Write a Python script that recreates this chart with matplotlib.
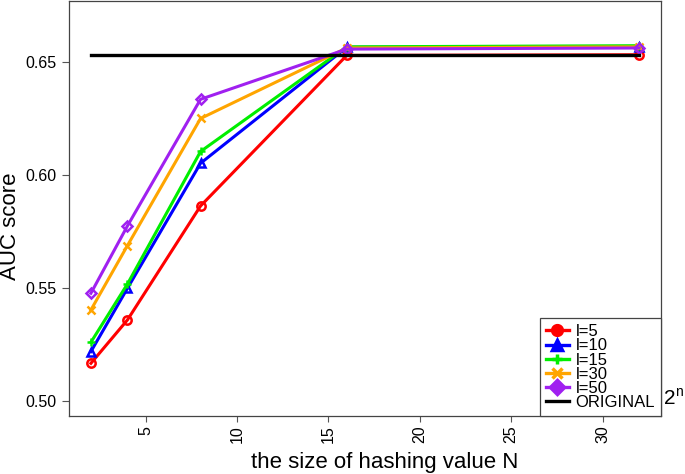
import matplotlib
matplotlib.use('Agg')
import matplotlib.pyplot as plt
from matplotlib.lines import Line2D

plt.rcParams['font.family'] = ['Liberation Sans', 'DejaVu Sans']

# hashing size N = 2^n
n_values = [2, 4, 8, 16, 32]
auc_l5 = [0.5165, 0.5357, 0.5861, 0.6527, 0.6530]
auc_l10 = [0.5217, 0.5497, 0.6050, 0.6563, 0.6565]
auc_l15 = [0.5258, 0.5516, 0.6102, 0.6565, 0.6570]
auc_l30 = [0.5401, 0.5686, 0.6248, 0.6560, 0.6565]
auc_l50 = [0.5475, 0.5773, 0.6333, 0.6555, 0.6560]
auc_original = 0.6530

labels = ['l=5', 'l=10', 'l=15', 'l=30', 'l=50', 'ORIGINAL']
series = [auc_l5, auc_l10, auc_l15, auc_l30, auc_l50]
colors = ['#ff0000', '#0000ff', '#00ee00', '#ffa500', '#a020f0']
markers = ['o', '^', '+', 'x', 'D']

fig = plt.figure(figsize=(6.85, 4.74), dpi=100)
ax = fig.add_axes([0.1007, 0.1224, 0.8643, 0.8756])

ax.plot([n_values[0], n_values[-1]], [auc_original, auc_original], color='black', lw=2.4, zorder=3)
for ys, c, m in zip(series, colors, markers):
    ms = 4.6 if m == 'D' else 6
    ax.plot(n_values, ys, color=c, lw=2.2, marker=m, ms=ms,
            mfc='none', mec=c, mew=1.8, zorder=2)

ax.set_xlim(0.8, 33.2)
ax.set_ylim(0.4932, 0.6768)
ax.set_xticks([5, 10, 15, 20, 25, 30])
ax.set_yticks([0.50, 0.55, 0.60, 0.65])
ax.set_yticklabels(['0.50', '0.55', '0.60', '0.65'])
ax.tick_params(axis='x', labelrotation=90, length=4, width=0.8, color='#555555',
               labelsize=11.5, pad=3)
ax.tick_params(axis='y', length=5, width=0.8, color='#555555', labelsize=11.5, pad=4)
for s in ax.spines.values():
    s.set_color('#444444')
    s.set_linewidth(0.9)

fig.text(385 / 685, 1 - 468 / 474, 'the size of hashing value N', fontsize=16,
         ha='center', va='baseline')
fig.text(11 / 685, 1 - 226 / 474, 'AUC score', fontsize=16, rotation=90,
         ha='center', va='center')
# 2^n next to the x axis end
fig.text(664 / 685, 1 - 404 / 474, '2', fontsize=15, ha='left', va='baseline')
fig.text(675 / 685, 1 - 396 / 474, 'n', fontsize=10, ha='left', va='baseline')

handles = []
for c, m in zip(colors, markers):
    handles.append(Line2D([], [], color=c, lw=2.4, marker=m, ms=7, mfc=c, mec=c, mew=2.5))
handles.append(Line2D([], [], color='black', lw=2.4))
leg = ax.legend(handles, labels, loc='lower right', borderaxespad=0, fancybox=False,
                framealpha=1, edgecolor='#444444', fontsize=12, handlelength=1.4,
                handletextpad=0.4, labelspacing=-0.05, borderpad=0.35)
leg.get_frame().set_linewidth(0.9)

fig.savefig('out.png', dpi=100)
